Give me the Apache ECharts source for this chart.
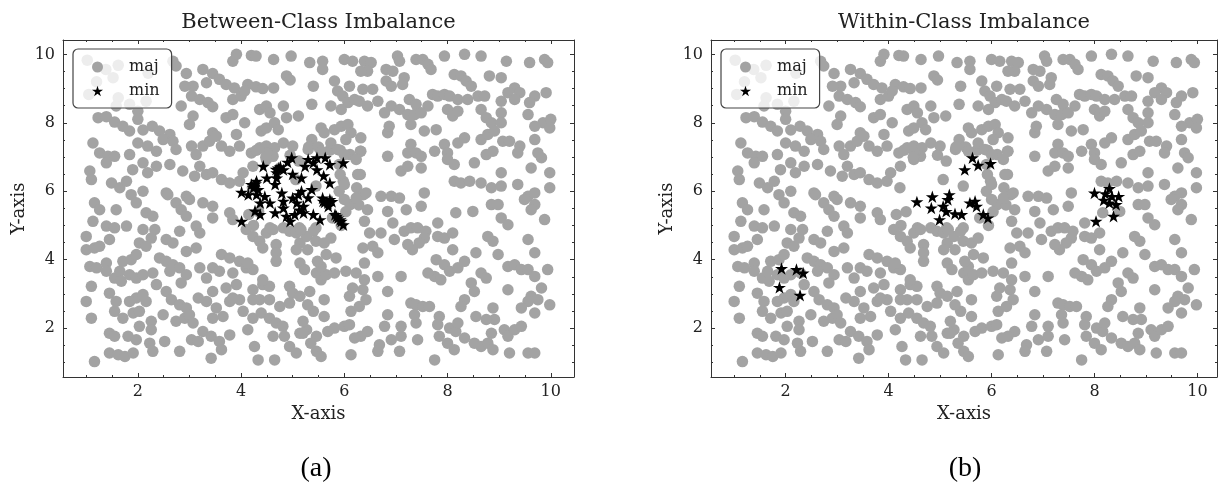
<!DOCTYPE html>
<html><head><meta charset="utf-8">
<script src="https://cdn.jsdelivr.net/npm/echarts@6/dist/echarts.min.js"></script>
<style>html,body{margin:0;padding:0;background:#fff}#c{width:1218px;height:495px}</style>
</head><body><div id="c"></div>
<script>
// ---------------- data ----------------
const majPoints = [
[1.02,9.83],[1.62,9.68],[2.68,9.80],[2.74,9.66],[3.84,9.80],[3.91,10.0],[4.20,9.97],[4.29,9.95],[4.63,9.85],[4.97,9.95],[5.33,9.76],
[1.38,9.56],[1.52,9.32],[2.94,9.44],[3.26,9.56],[3.45,9.44],[3.58,9.27],[3.07,9.07],[2.91,9.07],[3.33,9.17],[3.71,9.12],[3.87,9.02],[4.13,9.12],[4.29,9.05],[4.42,9.0],[4.88,9.37],[4.95,9.25],[4.63,9.02],[5.40,9.07],
[1.05,8.83],[1.62,8.73],[1.58,8.49],[1.84,8.54],[2.0,8.34],[2.16,8.63],[2.84,8.49],[3.04,8.78],[3.20,8.68],[3.36,8.59],[3.45,8.47],[3.84,8.68],[4.0,8.78],[4.07,8.93],[4.36,8.39],[4.49,8.49],[4.56,8.29],[4.82,8.49],[5.37,8.54],
[1.23,8.15],[1.39,8.18],[1.55,8.02],[1.71,7.90],[1.84,7.76],[2.0,8.10],[2.10,7.79],[2.28,7.90],[2.42,7.76],[2.62,7.66],[3.07,8.20],[3.0,7.95],[3.71,8.15],[3.84,8.24],[4.07,8.0],[4.39,7.76],[4.49,7.85],[4.65,8.0],[4.72,7.80],[4.88,8.15],[5.11,8.20],[3.45,7.71],[3.91,7.66],
[1.13,7.41],[1.26,7.12],[1.42,7.02],[1.55,7.02],[1.84,7.07],[2.0,7.41],[2.19,7.32],[2.36,7.17],[2.49,7.51],[2.68,7.46],[2.74,7.22],[3.04,7.32],[3.13,7.07],[3.26,7.32],[3.39,7.46],[3.52,7.61],[3.62,7.32],[3.78,7.17],[3.97,7.32],[4.20,7.12],[4.36,7.27],[4.49,7.32],[4.65,7.27],[4.82,7.41],[5.0,7.32],[5.37,7.51],[5.30,7.22],
[1.07,6.59],[1.10,6.34],[1.39,6.83],[1.49,6.24],[1.65,6.10],[1.78,6.29],[1.90,6.63],[2.10,6.83],[2.19,6.54],[2.36,6.73],[2.62,6.78],[2.87,6.59],[3.10,6.44],[3.20,6.73],[3.33,6.49],[3.45,6.54],[3.62,6.34],[3.78,6.24],[3.97,6.29],[4.04,6.54],[4.23,6.73],[4.49,6.93],[4.62,7.02],[1.87,5.90],[2.10,6.0],[2.55,5.95],[2.94,5.85],
[1.2,9.2],[2.2,9.45],
[6.31,6.49],[6.24,6.10],[6.37,5.90],[6.11,5.61],[5.98,6.29],[5.92,6.49],[6.11,7.07],[6.31,7.17],[5.72,7.2],[5.92,7.2],[4.30,7.20],[4.50,7.12],[4.95,7.05],[4.56,4.93],[4.82,4.93],[4.24,5.0],
[4.48,6.99],[4.22,6.10],[4.15,5.32],[4.34,5.40],[5.06,6.34],[5.45,6.15],[5.12,6.88],[5.31,7.29],[5.5,7.29],[5.90,6.78],[5.90,6.0],[6.28,5.6],[6.03,5.4],[5.13,4.93],[5.45,4.93],
[1.16,5.66],[1.26,5.46],[1.13,5.12],[1.39,4.98],[1.55,4.93],[1.58,5.46],[1.78,4.98],[1.45,4.59],[1.0,4.68],[1.0,4.29],[1.16,4.34],[1.26,4.39],[1.07,3.80],[1.20,3.76],[1.39,3.90],[1.10,3.22],[1.0,2.78],[1.10,2.29],[1.16,1.02],[1.39,3.66],[1.55,3.46],[1.65,3.66],[1.71,3.95],[1.87,4.0],[1.97,4.15],[2.03,4.49],[2.16,4.39],[2.10,4.88],[2.33,4.88],[2.26,4.63],[1.97,5.66],[2.16,5.37],[2.29,5.27],[2.58,5.90],[2.74,5.66],[2.84,5.46],[2.94,5.27],[3.0,5.76],[3.13,4.98],[3.20,4.78],[2.81,4.83],[2.55,4.59],[2.68,4.49],[2.94,4.24],[3.26,5.66],[3.45,5.56],[3.45,5.22],[3.78,5.37],[3.84,5.17],[3.13,4.34],
[1.68,3.37],[1.84,3.56],[1.97,3.46],[2.10,3.56],[2.29,3.61],[2.36,3.27],[2.42,4.05],[2.55,3.95],[2.68,3.85],[2.81,3.76],[2.94,3.56],[2.84,3.32],[2.62,3.66],[3.20,3.76],[3.33,3.46],[3.45,3.76],[3.58,3.66],[3.62,4.15],[3.78,4.05],[3.84,3.61],[3.97,3.95],[4.10,3.76],[4.23,3.71],[4.13,3.90],[3.91,3.27],[3.71,3.17],[3.45,3.07],[3.33,2.78],[3.17,2.88],[2.55,3.07],[2.65,2.83],[2.81,2.68],[2.94,2.59],[2.74,2.20],[2.91,2.29],[3.0,2.39],[3.07,2.15],[3.52,2.59],[3.65,2.34],[3.45,2.29],[3.78,2.78],[3.97,2.83],[4.04,2.49],[4.23,3.12],[4.42,3.27],[4.55,3.22],[4.36,2.83],[4.55,2.83],[4.75,2.63],[4.23,2.29],[4.39,2.44],[4.55,2.29],[4.68,2.15],[4.81,2.05],[4.13,1.95],[4.62,1.76],[4.84,1.76],[4.94,1.46],[5.07,1.27],[4.26,1.46],[4.33,1.07],[4.65,1.07],[5.14,1.85],[5.27,1.95],[4.94,3.22],[5.0,3.02],
[1.45,3.02],[1.58,2.78],[1.55,2.49],[1.71,2.29],[1.45,1.85],[1.55,1.76],[1.45,1.27],[1.62,1.22],[1.75,1.17],[1.91,1.27],[1.81,1.76],[1.97,1.66],[2.03,2.05],[1.91,2.44],[2.03,2.49],[1.97,2.88],[2.10,2.98],[2.16,2.78],[1.84,2.78],[2.26,2.20],[2.26,1.95],[2.23,1.56],[2.29,1.32],[2.52,1.61],[2.81,1.32],[2.49,2.39],[3.04,1.66],[3.17,1.61],[3.26,1.90],[3.42,1.76],[3.58,1.61],[3.62,1.37],[3.42,1.12],[3.78,1.80],
[4.10,4.88],[4.23,4.68],[4.36,4.54],[4.49,4.78],[4.62,4.88],[4.68,4.44],[4.42,4.34],[4.68,4.20],[4.68,3.95],[4.94,4.83],[5.07,4.78],[5.14,4.49],[5.27,4.68],[5.40,4.83],[5.07,4.29],[5.14,3.90],[4.42,3.41],[4.23,2.83],[4.94,2.73],[5.14,2.93],[5.33,3.07],[5.46,3.61],[5.40,2.49],[5.20,2.20],[5.20,1.85],[5.46,1.76],[5.46,1.32],[3.84,2.88],
[5.58,9.80],[5.58,9.56],[6.0,9.85],[6.16,9.80],[6.39,9.80],[6.52,9.76],[6.45,9.51],[6.32,9.51],[7.03,9.95],[7.07,9.80],[7.39,9.85],[7.52,9.85],[7.62,9.71],[7.68,9.56],[7.94,9.95],[8.33,10.0],[8.65,9.95],[9.14,9.80],[9.59,9.76],[9.88,9.85],[9.94,9.76],[6.81,9.56],[6.94,9.51],[6.81,9.22],[6.91,9.07],[7.16,9.32],[7.13,9.12],[5.81,9.22],[6.10,9.07],[6.36,8.98],[6.55,8.98],[5.87,8.93],[5.97,8.78],[6.07,8.59],[6.20,8.68],[6.29,8.63],[6.45,8.49],[6.65,8.63],[5.74,8.49],[5.94,8.39],[8.13,9.41],[8.26,9.37],[8.36,9.22],[8.46,9.07],[8.81,9.37],[9.04,9.32],[7.71,8.83],[7.81,8.78],[7.94,8.83],[8.04,8.78],[8.20,8.68],[8.39,8.68],[8.59,8.78],[8.72,8.78],[9.30,9.02],[9.17,8.88],[9.40,8.88],[9.69,8.78],[9.91,8.88],[9.30,8.68],[9.59,8.59],[9.04,8.63],[7.26,8.68],[7.39,8.54],[7.62,8.49],[6.91,8.49],[6.78,8.29],[7.07,8.39],[7.23,8.24],[7.36,8.24],[7.49,8.29],[8.0,8.39],[8.10,8.20],[8.20,8.34],[8.65,8.39],[8.75,8.15],[8.85,8.0],[9.04,8.29],[9.04,8.0],[9.56,8.24],[9.85,8.0],[10.0,8.10],[9.98,7.85],[9.69,7.90],
[5.55,7.85],[5.61,7.71],[5.81,7.80],[5.94,7.90],[6.07,7.95],[6.13,7.71],[6.03,7.51],[6.32,7.56],[6.32,7.17],[5.55,7.17],[5.74,7.41],[5.87,7.22],[6.0,7.07],[6.23,6.93],[6.84,7.71],[6.87,7.90],[7.29,7.95],[7.55,7.76],[7.78,7.80],[7.94,7.37],[8.20,7.41],[8.33,7.56],[8.65,7.51],[8.78,7.66],[8.91,7.76],[9.07,7.46],[9.20,7.46],[9.40,7.32],[9.36,7.12],[9.69,7.51],[9.75,7.12],[9.82,6.98],[7.29,7.37],[7.23,7.12],[7.39,7.12],[7.49,7.02],[7.75,7.17],[8.0,7.12],[8.0,6.93],[8.13,6.78],[8.13,6.29],[6.84,7.02],[7.10,6.59],[7.23,6.73],[7.49,6.68],[8.52,6.83],[8.75,7.07],[8.88,7.17],[9.04,6.54],[9.62,6.68],[9.98,6.54],[9.98,6.10],[8.26,6.24],[8.43,6.29],[8.65,6.24],[8.85,6.10],[9.04,6.15],[9.36,6.20],[9.56,5.85],[9.69,5.95],[6.26,6.49],[6.0,6.20],
[6.0,5.76],[6.23,5.80],[6.42,5.95],[6.71,5.85],[6.91,5.85],[7.07,5.80],[7.55,5.95],
[6.45,5.46],[6.84,5.41],[6.94,5.07],[7.20,5.46],[7.49,5.56],[8.16,5.37],[8.49,5.41],[8.85,5.61],[8.98,5.61],[9.04,5.22],[9.17,5.02],[9.49,5.76],[9.69,5.61],[9.62,5.46],[9.88,5.17],[6.39,5.12],[6.49,4.78],[6.71,4.78],[6.36,4.34],[6.55,4.39],[6.65,4.20],[6.97,4.59],[7.16,4.83],[7.29,4.93],[7.42,4.93],[7.58,4.83],[7.55,4.63],[7.45,4.49],[7.32,4.29],[7.23,4.44],[7.81,5.07],[7.81,4.68],[7.94,4.63],[8.10,4.78],[8.10,4.29],[7.78,4.0],[7.94,3.85],[8.04,3.66],[7.75,3.51],[7.87,3.41],[7.62,3.61],[8.20,3.76],[8.33,3.95],[8.55,4.20],[8.46,3.32],[8.65,3.61],[8.75,3.46],[8.78,4.68],[8.88,4.54],[8.98,4.15],[9.17,3.80],[9.30,3.85],[9.43,3.71],[9.56,3.71],[9.69,3.51],[9.56,4.59],[9.69,4.20],[9.94,3.71],[9.82,3.17],[9.17,3.12],[9.62,2.93],[9.75,2.83],[9.56,2.78],[9.43,2.59],[9.69,2.44],[9.98,2.68],[8.88,2.59],[8.91,2.25],[8.75,2.25],[8.55,2.34],[8.33,2.83],[8.26,2.63],[8.52,3.07],[7.29,2.73],[7.39,2.68],[7.52,2.63],[7.65,2.63],[7.36,2.39],[7.39,2.15],[7.42,1.66],[7.84,2.34],[7.81,2.10],[8.04,2.0],[8.16,1.90],[8.20,2.15],[7.84,1.76],[8.0,1.56],[8.13,1.37],[8.33,1.71],[8.52,1.56],[8.65,1.46],[8.78,1.56],[8.85,1.85],[8.88,1.37],[9.10,1.95],[9.17,1.76],[9.30,1.95],[9.43,2.05],[9.20,1.27],[9.56,1.27],[9.69,1.27],[7.75,1.07],[7.10,2.05],[6.84,2.39],[6.78,2.05],[6.91,1.66],[7.10,1.76],[6.68,1.51],[6.65,1.32],[7.07,1.32],[6.45,1.90],[6.32,1.76],[6.20,1.71],[6.13,1.22],[5.55,1.17],[5.81,2.0],[6.0,2.05],[6.10,2.10],[5.68,1.90],[5.35,1.56],[5.61,2.34],[5.29,2.68],[6.13,2.49],[6.29,2.63],[6.10,2.93],[6.16,3.17],[6.36,3.12],[6.42,2.83],[6.84,3.07],[5.61,2.83],[5.55,3.41],[5.65,3.56],[5.81,3.61],[6.03,3.66],[5.55,3.80],[5.23,3.71],[5.48,3.95],[5.65,4.15],[5.84,4.05],[5.29,4.29],[5.45,4.54],[5.61,4.49],[5.16,4.88],[5.74,4.63],[5.77,5.22],[5.94,5.0],[6.23,3.61],[6.65,3.51],[6.39,3.90],[7.10,3.51],[6.39,3.41]
];
const minPointsA = [
[4.98,6.98],[5.30,6.93],[5.47,6.98],[5.63,6.98],[5.72,6.78],[5.98,6.83],[5.24,6.73],[5.47,6.63],[5.17,6.39],[4.43,6.73],[4.72,6.68],[4.82,6.63],[4.50,6.39],[4.69,6.39],[4.30,6.29],[4.24,6.10],[4.66,6.20],[5.72,6.24],[5.37,6.05],[4.30,5.90],[4.46,5.85],[4.79,5.95],[5.11,5.90],[5.30,5.81],[5.59,5.71],[5.72,5.76],[5.69,5.56],[4.37,5.66],[4.56,5.66],[4.82,5.71],[5.08,5.66],[5.21,5.56],[4.82,5.51],[4.37,5.32],[4.66,5.37],[4.88,5.27],[5.04,5.32],[4.95,5.12],[5.21,5.37],[5.40,5.32],[5.53,5.17],[5.85,5.27],[5.92,5.17],[5.98,5.02],[4.27,5.42],
[4.01,5.97],[4.01,5.12],[4.69,6.54],[5.17,6.0],[5.40,6.83],[5.58,5.80],[5.94,5.12],[5.68,5.66],[4.14,5.9],[4.2,6.2],[5.0,6.5],[5.6,6.45],[4.9,6.85],
[4.28,6.22],[4.33,6.05],[5.62,5.68],[5.76,5.70],[4.76,6.72],[4.68,6.64],[5.88,5.22],[5.82,5.32],[5.13,5.45],[5.00,5.80]
];
const minPointsB = [
[1.92,3.74],[2.21,3.71],[2.34,3.61],[1.88,3.19],[2.28,2.96],
[5.63,6.98],[5.74,6.76],[5.48,6.63],[5.98,6.81],[4.55,5.69],[4.85,5.84],[5.18,5.90],[5.15,5.76],[4.83,5.51],[5.06,5.56],[5.12,5.41],[5.29,5.34],[5.42,5.32],[4.99,5.17],[5.58,5.66],[5.68,5.71],[5.71,5.56],[5.84,5.32],[5.93,5.22],
[8.0,5.95],[8.21,5.93],[8.29,6.08],[8.34,5.85],[8.47,5.85],[8.18,5.74],[8.29,5.66],[8.42,5.61],[8.37,5.27],[8.03,5.12]
];
const xMajorTicks = [2,4,6,8,10];
const yMajorTicks = [2,4,6,8,10];
const xMinorTicks = [1,1.5,2.5,3,3.5,4.5,5,5.5,6.5,7,7.5,8.5,9,9.5];
const yMinorTicks = [1,1.5,2.5,3,3.5,4.5,5,5.5,6.5,7,7.5,8.5,9,9.5];
const panelTitles = ['Between-Class Imbalance','Within-Class Imbalance'];
const panelCaptions = ['(a)','(b)'];
const seriesNames = ['maj','min'];

// ---------------- style ----------------
const STAR = 'path://M0,-10L2.245,-3.09L9.511,-3.09L3.633,1.18L5.878,8.09L0,3.82L-5.878,8.09L-3.633,1.18L-9.511,-3.09L-2.245,-3.09Z';
const FONT = 'DejaVu Serif';
const FRAME = '#333';
const GRAY = '#a3a3a3';
const X_MIN = 0.55, Y_MIN = 0.57, Y_MAX = 10.42;
const grids = [
  {left: 63, top: 40, width: 511, height: 337, xMax: 10.45, cx: 318.5},
  {left: 711, top: 40, width: 506, height: 337, xMax: 10.38, cx: 964}
];

function tick(len, vals){ return {show:true, inside:true, length:len, customValues:vals, lineStyle:{color:FRAME, width:1}}; }

function xAxesFor(g){
  const base = {gridIndex:g, type:'value', min:X_MIN, max:grids[g].xMax, splitLine:{show:false},
    axisLine:{show:true, onZero:false, lineStyle:{color:FRAME, width:1}}};
  return [
    Object.assign({}, base, {position:'bottom', name:'X-axis', nameLocation:'middle', nameGap:27,
      nameTextStyle:{fontFamily:FONT, fontSize:18, color:'#222'},
      axisTick:tick(4, xMajorTicks),
      axisLabel:{customValues:xMajorTicks, margin:7, fontFamily:FONT, fontSize:16, color:'#222'}}),
    Object.assign({}, base, {position:'bottom', axisLine:{show:false}, axisTick:tick(2, xMinorTicks), axisLabel:{show:false}}),
    Object.assign({}, base, {position:'top', axisTick:tick(4, xMajorTicks), axisLabel:{show:false}}),
    Object.assign({}, base, {position:'top', axisLine:{show:false}, axisTick:tick(2, xMinorTicks), axisLabel:{show:false}})
  ];
}
function yAxesFor(g){
  const base = {gridIndex:g, type:'value', min:Y_MIN, max:Y_MAX, splitLine:{show:false},
    axisLine:{show:true, onZero:false, lineStyle:{color:FRAME, width:1}}};
  return [
    Object.assign({}, base, {position:'left', name:'Y-axis', nameLocation:'middle', nameGap:35,
      nameTextStyle:{fontFamily:FONT, fontSize:18, color:'#222'},
      axisTick:tick(4, yMajorTicks),
      axisLabel:{customValues:yMajorTicks, margin:8, fontFamily:FONT, fontSize:16, color:'#222'}}),
    Object.assign({}, base, {position:'left', axisLine:{show:false}, axisTick:tick(2, yMinorTicks), axisLabel:{show:false}}),
    Object.assign({}, base, {position:'right', axisTick:tick(4, yMajorTicks), axisLabel:{show:false}}),
    Object.assign({}, base, {position:'right', axisLine:{show:false}, axisTick:tick(2, yMinorTicks), axisLabel:{show:false}})
  ];
}

const minSets = [minPointsA, minPointsB];
const series = [];
[0,1].forEach(g => {
  series.push({type:'scatter', name:seriesNames[0], xAxisIndex:g*4, yAxisIndex:g*4, data:majPoints,
    symbol:'circle', symbolSize:11.5, itemStyle:{color:GRAY, opacity:1}, silent:true, z:2});
  series.push({type:'scatter', name:seriesNames[1], xAxisIndex:g*4, yAxisIndex:g*4, data:minSets[g],
    symbol:STAR, symbolSize:[13,12.4], itemStyle:{color:'#000', opacity:1}, silent:true, z:3});
});

const legendBase = {orient:'vertical', top:49, itemWidth:11, itemHeight:11, itemGap:8,
  padding:[10,12,9,19], borderColor:'#444', borderWidth:1.2, borderRadius:5,
  backgroundColor:'rgba(255,255,255,0.8)', selectedMode:false,
  data:[{name:seriesNames[0], icon:'circle'},{name:seriesNames[1], icon:STAR}],
  textStyle:{fontFamily:FONT, fontSize:16, color:'#222', padding:[0,0,0,21]}};

const option = {
  animation:false,
  backgroundColor:'#fff',
  grid: grids.map(g => ({left:g.left, top:g.top, width:g.width, height:g.height})),
  title: [
    ...panelTitles.map((t,i) => ({text:t, left:grids[i].cx, top:12, textAlign:'center', padding:0,
      textStyle:{fontFamily:FONT, fontSize:21, fontWeight:'normal', color:'#222'}})),
    ...panelCaptions.map((t,i) => ({text:t, left:[316,965][i], top:455, textAlign:'center', padding:0,
      textStyle:{fontFamily:'Liberation Serif', fontSize:28, fontWeight:'normal', color:'#000'}}))
  ],
  legend: [Object.assign({}, legendBase, {left:73}), Object.assign({}, legendBase, {left:721})],
  xAxis: [...xAxesFor(0), ...xAxesFor(1)],
  yAxis: [...yAxesFor(0), ...yAxesFor(1)],
  series
};
const chart = echarts.init(document.getElementById('c'), null, {renderer:'canvas'});
chart.setOption(option);
</script>
</body></html>
